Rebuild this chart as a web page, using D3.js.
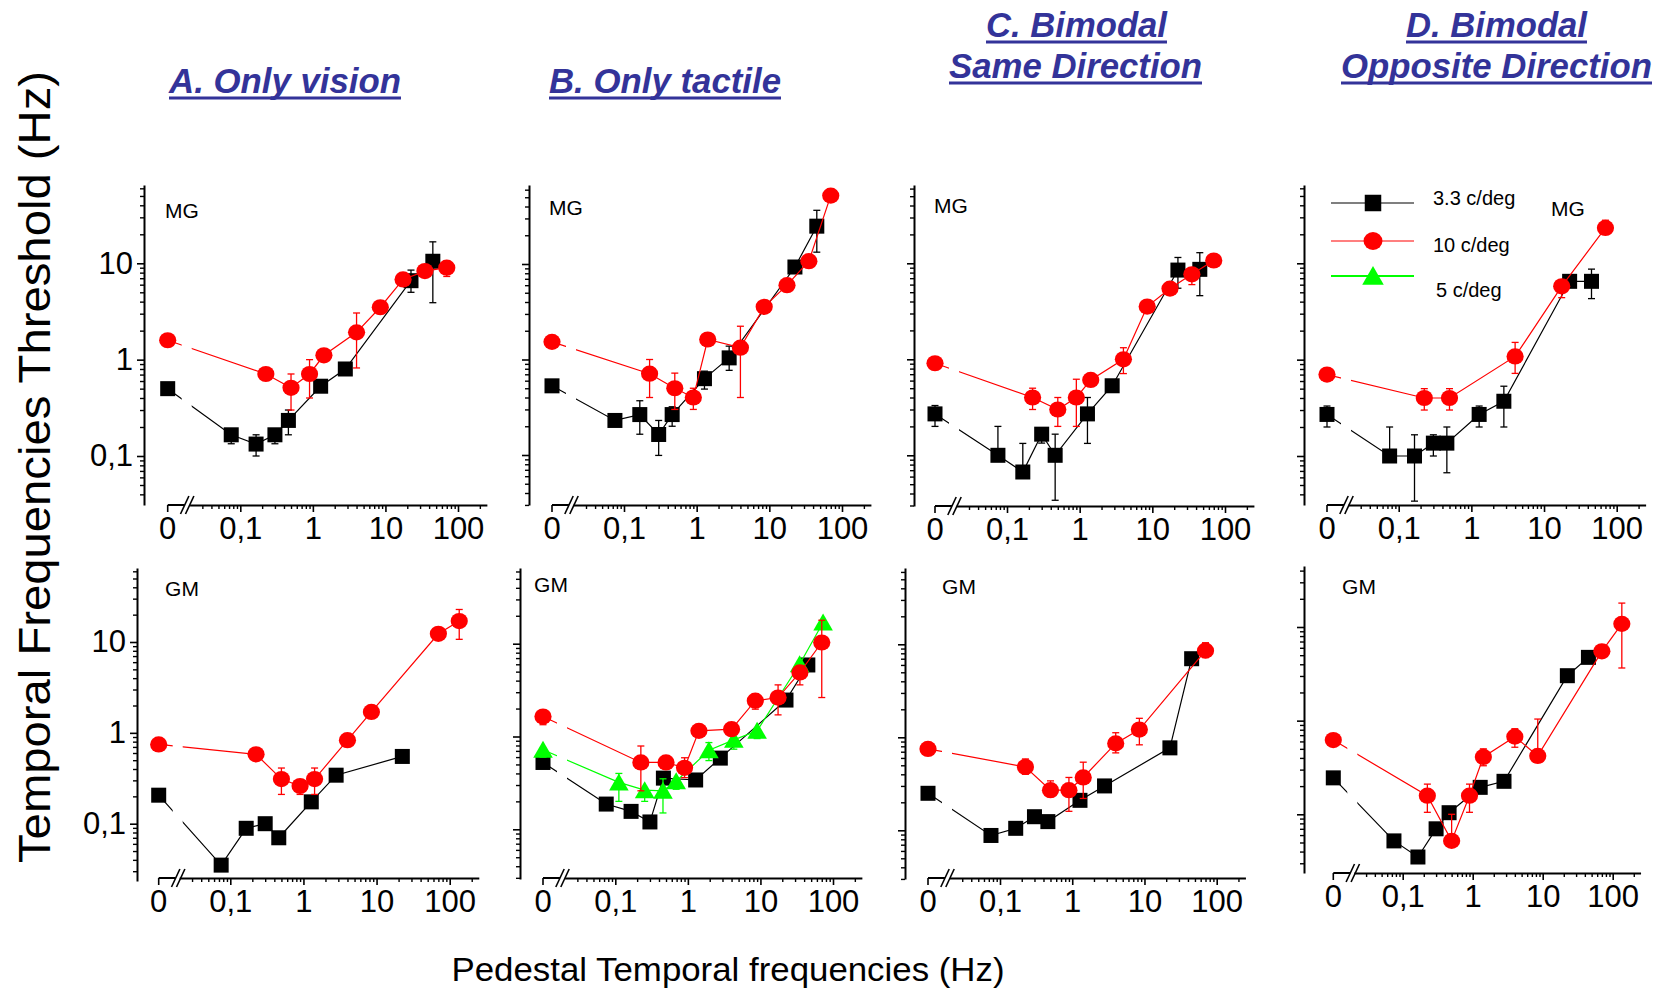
<!DOCTYPE html>
<html><head><meta charset="utf-8">
<script src="https://cdn.jsdelivr.net/npm/d3@7"></script>
<style>body{margin:0;background:#fff}svg{display:block}</style>
</head><body><svg id="c" width="1659" height="992"></svg>
<script>
// ---------------- DATA ----------------
const blackFreq = [0, 0.075, 0.165, 0.3, 0.46, 1.28, 2.8, 22.5, 45];
const redFreq   = [0, 0.225, 0.5, 0.9, 1.42, 4, 8.5, 17.5, 35, 70, 135];
const greenFreq = [0, 0.112, 0.254, 0.454, 0.69, 1.95, 4.3, 9.0, 34.7, 73];

const seriesNames = ["3.3 c/deg", "10 c/deg", "5 c/deg"];
const columnTitles = [["A. Only vision"], ["B. Only tactile"], ["C. Bimodal", "Same Direction"], ["D. Bimodal", "Opposite Direction"]];
const rowLabels = ["MG", "GM"];
const xTickValues = [0.1, 1, 10, 100];
const xTickLabels = ["0,1", "1", "10", "100"];
const xZeroLabel = "0";
const yTickValues = [0.1, 1, 10];
const yTickLabels = ["0,1", "1", "10"];
const yTitle = "Temporal Frequencies Threshold (Hz)";
const xTitle = "Pedestal Temporal frequencies (Hz)";

// Row MG
const visionMG_black = [0.50, 0.166, 0.133, 0.166, 0.234, 0.53, 0.80, 6.6, 10.5];
const visionMG_blackErr = [null, [0.134,0.18], [0.1,0.166], [0.134,0.18], [0.166,0.30], null, null, [5,8.5], [3.9,16.7]];
const visionMG_red = [1.59, 0.71, 0.51, 0.71, 1.11, 1.92, 3.5, 6.8, 8.3, 9.0, null];
const visionMG_redErr = [null, null, [0.30,0.71], [0.40,1.0], null, [0.82,3.05], null, null, null, [7.3,10.0], null];

const tactileMG_black = [0.53, 0.23, 0.265, 0.164, 0.265, 0.63, 1.04, 9.3, 24.9];
const tactileMG_blackErr = [null, null, [0.165,0.37], [0.099,0.23], [0.2,0.32], [0.49,0.755], [0.77,1.38], null, [13.3,36.5]];
const tactileMG_red = [1.53, 0.71, 0.50, 0.40, 1.62, 1.33, 3.56, 6.0, 10.7, 52, null];
const tactileMG_redErr = [null, [0.40,1.0], [0.30,0.72], [0.3,0.5], null, [0.40,2.23], null, null, null, null, null];

const sameMG_black = [0.27, 0.10, 0.067, 0.166, 0.10, 0.27, 0.53, 8.5, 8.65];
const sameMG_blackErr = [[0.2,0.33], [0.1,0.2], [0.067,0.133], [0.134,0.18], [0.034,0.166], [0.133,0.40], null, [5.5,11.5], [4.6,12.9]];
const sameMG_red = [0.91, 0.40, 0.30, 0.40, 0.61, 1.0, 3.54, 5.45, 7.68, 10.7, null];
const sameMG_redErr = [null, [0.3,0.5], [0.2,0.4], [0.2,0.62], null, [0.71,1.32], null, null, [6.0,8.6], null, null];

const oppMG_black = [0.27, 0.10, 0.10, 0.136, 0.136, 0.27, 0.37, 6.5, 6.5];
const oppMG_blackErr = [[0.2,0.33], [0.1,0.2], [0.034,0.166], [0.1,0.166], [0.067,0.2], [0.2,0.33], [0.2,0.53], null, [4.3,8.7]];
const oppMG_red = [0.70, 0.40, 0.40, null, null, 1.08, null, 5.77, null, 23.3, null];
const oppMG_redErr = [null, [0.3,0.5], [0.3,0.5], null, null, [0.72,1.51], null, [4.4,6.7], null, [20,28], null];

// Row GM
const visionGM_black = [0.206, 0.035, 0.089, 0.10, 0.07, 0.174, 0.342, 0.55, null];
const visionGM_red = [0.745, 0.58, 0.31, 0.26, 0.31, 0.83, 1.70, null, null, 12.3, 17];
const visionGM_redErr = [[0.67,0.80], null, [0.21,0.41], [0.21,0.27], [0.21,0.41], null, null, null, null, null, [10.7,22.8]];

const tactileGM_black = [0.525, 0.187, 0.156, 0.12, 0.356, 0.34, 0.585, 2.47, 5.9];
const tactileGM_red = [1.64, 0.525, 0.525, 0.46, 1.15, 1.2, 2.43, 2.63, 4.9, 10.3, null];
const tactileGM_redErr = [[1.34,1.64], [0.26,0.79], null, [0.36,0.59], null, null, [1.97,2.86], [1.71,3.6], [3.6,5.8], [2.63,17.9], null];
const tactileGM_green = [0.72, 0.32, 0.264, 0.26, 0.33, 0.71, 0.92, 1.15, 6.0, 16.9];
const tactileGM_greenErr = [[0.6,0.72], [0.20,0.40], [0.20,0.264], [0.15,0.35], [0.27,0.33], [0.55,0.86], [0.73,1.06], [0.95,1.15], [4.9,6.0], null];

const sameGM_black = [0.25, 0.088, 0.105, 0.14, 0.124, 0.21, 0.30, 0.77, 7.0];
const sameGM_red = [0.75, 0.48, 0.27, 0.27, 0.37, 0.86, 1.21, null, null, 8.55, null];
const sameGM_redErr = [null, [0.40,0.585], [0.23,0.34], [0.16,0.37], [0.22,0.54], [0.68,1.12], [0.83,1.6], null, null, [7.2,10.4], null];

const oppGM_black = [0.245, 0.052, 0.035, 0.07, 0.104, 0.194, 0.225, 3.02, 4.74];
const oppGM_red = [0.62, 0.158, 0.052, 0.158, 0.41, 0.675, 0.42, null, null, 5.5, 10.8];
const oppGM_redErr = [null, [0.105,0.21], [0.052,0.1], [0.105,0.21], [0.33,0.50], [0.52,0.82], [0.42,1.04], null, null, null, [3.65,18]];

// ---------------- LAYOUT (positions only) ----------------
const layout = [
  {yAxisX:144, yTop:185, yBot:505, y10:263.3, y01:456,   axisY:505, x0:167.7,  x01:240.3,  x100:458,   lab:[182,210]},
  {yAxisX:529, yTop:185, yBot:505, y10:264,   y01:455,   axisY:505, x0:552,    x01:624,    x100:842,   lab:[566,207]},
  {yAxisX:914, yTop:185, yBot:506, y10:263.3, y01:455.3, axisY:506, x0:935,    x01:1007,   x100:1225,  lab:[951,205]},
  {yAxisX:1304,yTop:185, yBot:505, y10:263.3, y01:456,   axisY:505, x0:1327,   x01:1398.7, x100:1616.7,lab:[1568,208]},
  {yAxisX:137, yTop:568, yBot:881, y10:642,   y01:823.7, axisY:878, x0:158.7,  x01:230.3,  x100:449.7, lab:[182,588]},
  {yAxisX:520, yTop:568, yBot:879, y10:643.7, y01:829.3, axisY:878, x0:543,    x01:615.3,  x100:833,   lab:[551,584]},
  {yAxisX:905, yTop:568, yBot:879, y10:644.3, y01:830.3, axisY:878, x0:928,    x01:1000,   x100:1216.7,lab:[959,586]},
  {yAxisX:1304,yTop:566, yBot:873, y10:627,   y01:814.3, axisY:873, x0:1333.3, x01:1402.7, x100:1612.7,lab:[1359,586]}
];

const panels = [
  {col:0,row:0,black:visionMG_black,blackErr:visionMG_blackErr,red:visionMG_red,redErr:visionMG_redErr},
  {col:1,row:0,black:tactileMG_black,blackErr:tactileMG_blackErr,red:tactileMG_red,redErr:tactileMG_redErr},
  {col:2,row:0,black:sameMG_black,blackErr:sameMG_blackErr,red:sameMG_red,redErr:sameMG_redErr},
  {col:3,row:0,black:oppMG_black,blackErr:oppMG_blackErr,red:oppMG_red,redErr:oppMG_redErr},
  {col:0,row:1,black:visionGM_black,blackErr:null,red:visionGM_red,redErr:visionGM_redErr},
  {col:1,row:1,black:tactileGM_black,blackErr:null,red:tactileGM_red,redErr:tactileGM_redErr,green:tactileGM_green,greenErr:tactileGM_greenErr},
  {col:2,row:1,black:sameGM_black,blackErr:null,red:sameGM_red,redErr:sameGM_redErr},
  {col:3,row:1,black:oppGM_black,blackErr:null,red:oppGM_red,redErr:oppGM_redErr}
];

const FONT = '"Liberation Sans", Arimo, Arial, Helvetica, sans-serif';
const COL = {black:'#000000', red:'#ff0000', green:'#00ff00'};
const TITLE_COLOR = '#333399';
const minorX = [0.03,0.04,0.05,0.06,0.07,0.08,0.09,0.2,0.3,0.4,0.5,0.6,0.7,0.8,0.9,2,3,4,5,6,7,8,9,20,30,40,50,60,70,80,90,200];
const minorY = [0.02,0.03,0.04,0.05,0.06,0.07,0.08,0.09,0.2,0.3,0.4,0.5,0.6,0.7,0.8,0.9,2,3,4,5,6,7,8,9,20,30,40,50,60,70];

const svg = d3.select('#c');
const defs = svg.append('defs');

function marker(sel, shape, color, x, y, big) {
  const k = big ? 1.1 : 1;
  if (shape === 'square') {
    sel.append('rect').attr('x', x - 7.5*k).attr('y', y - 7.5*k).attr('width', 15*k).attr('height', 15*k).attr('fill', color);
  } else if (shape === 'circle') {
    sel.append('ellipse').attr('cx', x).attr('cy', y).attr('rx', 8.6*k).attr('ry', 8.1*k).attr('fill', color);
  } else {
    sel.append('path').attr('d', `M${x},${y-9*k} L${x+9.8*k},${y+8*k} L${x-9.8*k},${y+8*k} Z`).attr('fill', color);
  }
}

function drawSeries(g, X, Y, freq, vals, errs, color, shape, clipId) {
  const pts = freq.map((f, k) => ({f, v: vals[k], e: errs ? errs[k] : null})).filter(d => d.v != null);
  const line = d3.line().x(d => X(d.f)).y(d => Y(d.v));
  g.append('path').datum(pts).attr('d', line).attr('fill', 'none').attr('stroke', color)
    .attr('stroke-width', 1.2).attr('clip-path', `url(#${clipId})`);
  const eg = g.append('g').attr('stroke', color).attr('stroke-width', 1.3);
  pts.filter(d => d.e).forEach(d => {
    const x = X(d.f), y1 = Y(d.e[0]), y2 = Y(d.e[1]);
    eg.append('line').attr('x1', x).attr('x2', x).attr('y1', y1).attr('y2', y2);
    eg.append('line').attr('x1', x - 3.5).attr('x2', x + 3.5).attr('y1', y1).attr('y2', y1);
    eg.append('line').attr('x1', x - 3.5).attr('x2', x + 3.5).attr('y1', y2).attr('y2', y2);
  });
  const mg = g.append('g');
  pts.forEach(d => marker(mg, shape, color, X(d.f), Y(d.v)));
}

function styleAxis(ga, fontSize) {
  ga.select('.domain').attr('stroke-width', 2);
  ga.selectAll('.tick line').attr('stroke-width', 1.6);
  ga.selectAll('.tick text').attr('font-family', FONT).attr('font-size', fontSize).attr('fill', '#000');
}

panels.forEach((p, i) => {
  const L = layout[i];
  const g = svg.append('g');
  const xl = d3.scaleLog().domain([0.1, 100]).range([L.x01, L.x100]);
  const X = v => v === 0 ? L.x0 : xl(v);
  const yl = d3.scaleLog().domain([0.1, 10]).range([L.y01, L.y10]);

  // ---- Y axis
  const ya = yl.copy().domain([yl.invert(L.yBot), yl.invert(L.yTop)]).range([L.yBot, L.yTop]);
  const yd = ya.domain();
  const yMaj = d3.axisLeft(ya).tickValues(yTickValues).tickSize(7).tickSizeOuter(0).tickPadding(4)
    .tickFormat((v, k) => p.col === 0 ? yTickLabels[k] : '');
  const gy = g.append('g').attr('transform', `translate(${L.yAxisX},0)`).call(yMaj);
  styleAxis(gy, 31);
  const yMin = d3.axisLeft(ya).tickValues(minorY.filter(v => v >= yd[0] && v <= yd[1])).tickSize(4).tickFormat('');
  const gym = g.append('g').attr('transform', `translate(${L.yAxisX},0)`).call(yMin);
  gym.select('.domain').remove();
  gym.selectAll('.tick line').attr('stroke-width', 1.4);

  // ---- X axis (log part)
  const xa = xl.copy().domain([0.02, 250]).range([xl(0.02), xl(250)]);
  const xMaj = d3.axisBottom(xa).tickValues(xTickValues).tickSize(7).tickSizeOuter(0).tickPadding(5)
    .tickFormat((v, k) => xTickLabels[k]);
  const gx = g.append('g').attr('transform', `translate(0,${L.axisY})`).call(xMaj);
  styleAxis(gx, 31);
  const xMin = d3.axisBottom(xa).tickValues(minorX).tickSize(4).tickFormat('');
  const gxm = g.append('g').attr('transform', `translate(0,${L.axisY})`).call(xMin);
  gxm.select('.domain').remove();
  gxm.selectAll('.tick line').attr('stroke-width', 1.4);

  // ---- zero part + break
  const x0 = X(0);
  g.append('line').attr('x1', x0).attr('x2', x0 + 17).attr('y1', L.axisY).attr('y2', L.axisY).attr('stroke', '#000').attr('stroke-width', 2);
  g.append('line').attr('x1', x0).attr('x2', x0).attr('y1', L.axisY).attr('y2', L.axisY + 7).attr('stroke', '#000').attr('stroke-width', 1.6);
  g.append('text').attr('x', x0).attr('y', L.axisY + 12).attr('dy', '0.71em').attr('text-anchor', 'middle')
    .attr('font-family', FONT).attr('font-size', 31).text(xZeroLabel);
  [17, 22].forEach(o => {
    g.append('line').attr('x1', x0 + o - 4.2).attr('y1', L.axisY + 9).attr('x2', x0 + o + 4.2).attr('y2', L.axisY - 9)
      .attr('stroke', '#000').attr('stroke-width', 1.6);
  });

  // ---- clip for lines (gap at break)
  const cid = 'clip' + i;
  const cp = defs.append('clipPath').attr('id', cid);
  cp.append('rect').attr('x', 0).attr('y', 0).attr('width', x0 + 14).attr('height', 992);
  cp.append('rect').attr('x', x0 + 24).attr('y', 0).attr('width', 1659).attr('height', 992);

  // ---- series
  drawSeries(g, X, yl, blackFreq, p.black, p.blackErr, COL.black, 'square', cid);
  if (p.green) drawSeries(g, X, yl, greenFreq, p.green, p.greenErr, COL.green, 'triangle', cid);
  drawSeries(g, X, yl, redFreq, p.red, p.redErr, COL.red, 'circle', cid);

  // ---- panel label
  g.append('text').attr('x', L.lab[0]).attr('y', L.lab[1]).attr('dy', '0.36em').attr('text-anchor', 'middle')
    .attr('font-family', FONT).attr('font-size', 21).text(rowLabels[p.row]);
});

// ---------------- Legend (panel D, MG) ----------------
const legendLayout = [
  {ly:203, tx:1433, ty:198, shape:'square', color:COL.black, w:1.2},
  {ly:241, tx:1433, ty:245, shape:'circle', color:COL.red, w:1.2},
  {ly:276, tx:1436, ty:290, shape:'triangle', color:COL.green, w:2.2}
];
const lg = svg.append('g');
legendLayout.forEach((d, k) => {
  lg.append('line').attr('x1', 1331).attr('x2', 1414).attr('y1', d.ly).attr('y2', d.ly).attr('stroke', d.color).attr('stroke-width', d.w);
  marker(lg, d.shape, d.color, 1373, d.ly, true);
  lg.append('text').attr('x', d.tx).attr('y', d.ty).attr('dy', '0.36em').attr('font-family', FONT)
    .attr('font-size', 20).text(seriesNames[k]);
});

// ---------------- Titles ----------------
const titleLayout = [
  [{x:169, w:232, base:93, ul:98}],
  [{x:549, w:232, base:93, ul:98}],
  [{x:986, w:181, base:37, ul:42}, {x:949, w:253, base:78, ul:83}],
  [{x:1406, w:181, base:37, ul:42}, {x:1341, w:311, base:78, ul:83}]
];
columnTitles.forEach((lines, c) => {
  lines.forEach((t, j) => {
    const tl = titleLayout[c][j];
    svg.append('text').attr('x', tl.x).attr('y', tl.base).attr('font-family', FONT).attr('font-weight', 'bold')
      .attr('font-style', 'italic').attr('font-size', 35).attr('fill', TITLE_COLOR)
      .attr('textLength', tl.w).attr('lengthAdjust', 'spacingAndGlyphs').text(t);
    svg.append('line').attr('x1', tl.x).attr('x2', tl.x + tl.w).attr('y1', tl.ul).attr('y2', tl.ul)
      .attr('stroke', TITLE_COLOR).attr('stroke-width', 3);
  });
});

// ---------------- Axis titles ----------------
svg.append('text').attr('transform', 'translate(50,467) rotate(-90)').attr('text-anchor', 'middle')
  .attr('font-family', FONT).attr('font-size', 45).attr('textLength', 792).attr('lengthAdjust', 'spacingAndGlyphs').text(yTitle);
svg.append('text').attr('x', 728).attr('y', 981).attr('text-anchor', 'middle')
  .attr('font-family', FONT).attr('font-size', 34).attr('textLength', 553).attr('lengthAdjust', 'spacingAndGlyphs').text(xTitle);
</script></body></html>
